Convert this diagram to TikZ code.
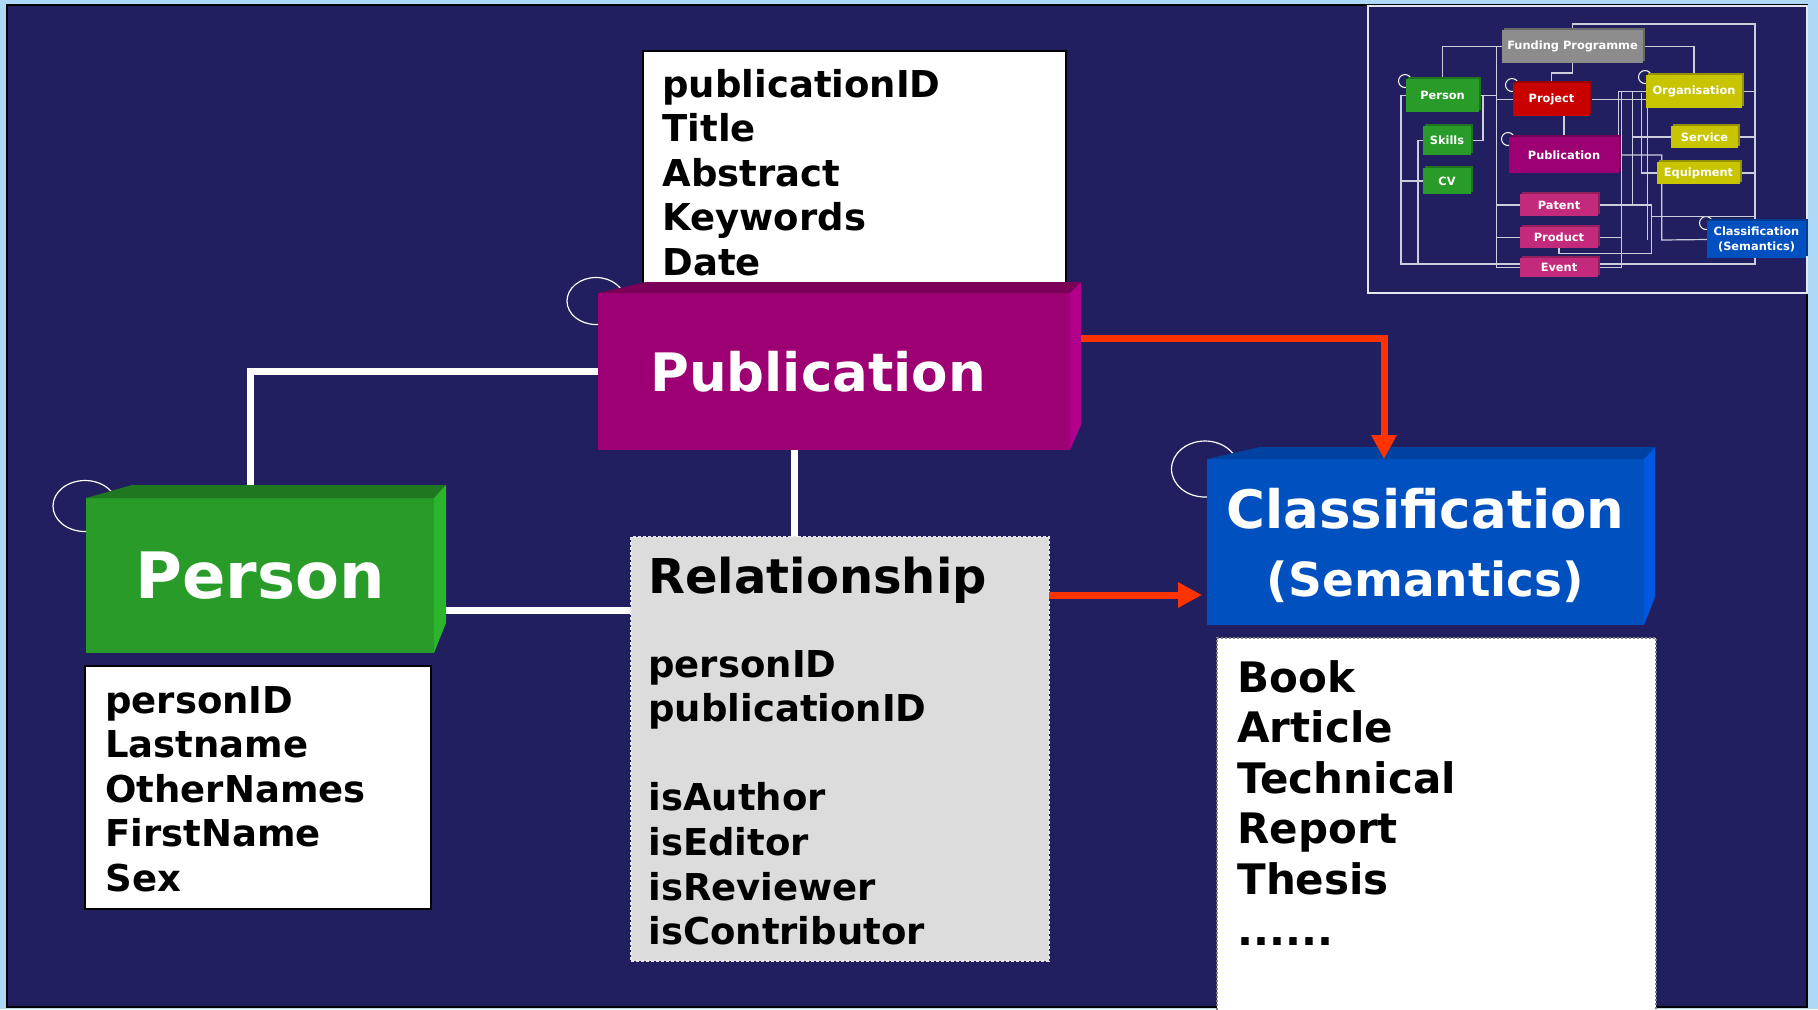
\documentclass[tikz,border=0pt]{standalone}
\usepackage{fontspec}
\setmainfont{DejaVu Sans}
\usetikzlibrary{arrows.meta,shadows}
\pgfdeclarelayer{back}
\pgfsetlayers{back,main}

\definecolor{navy}{RGB}{33,31,95}
\definecolor{skyedge}{RGB}{173,216,246}
\definecolor{pubfront}{RGB}{156,0,114}
\definecolor{pubtop}{RGB}{122,0,88}
\definecolor{pubside}{RGB}{178,0,140}
\definecolor{perfront}{RGB}{41,155,41}
\definecolor{pertop}{RGB}{31,120,31}
\definecolor{perside}{RGB}{45,180,45}
\definecolor{clsfront}{RGB}{0,80,192}
\definecolor{clstop}{RGB}{0,66,160}
\definecolor{clsside}{RGB}{0,88,224}
\definecolor{flowred}{RGB}{255,51,0}
\definecolor{relgrey}{RGB}{220,220,220}
\definecolor{projred}{RGB}{200,0,0}
\definecolor{orgyellow}{RGB}{200,196,0}
\definecolor{patpink}{RGB}{196,42,124}
\definecolor{fundgrey}{RGB}{140,140,140}
\definecolor{minline}{RGB}{205,205,220}
\definecolor{minframe}{RGB}{230,230,240}

\tikzset{
  face/.style={inner sep=0pt, outer sep=0pt, text=white},
  attrbox/.style={draw=black, line width=1pt, fill=white, inner sep=0pt, outer sep=0pt},
  attrtext/.style={anchor=base west, inner sep=0pt, align=left, text width=#1,
    font=\bfseries\fontsize{18.5}{22.3}\selectfont},
  ring/.style={draw=white, line width=0.6pt},
  link/.style={draw=white, line width=3.5pt},
  flow/.style={draw=flowred, line width=3.5pt, -{Triangle[length=12pt,width=12pt]}},
  mini/.style={inner sep=0pt, outer sep=0pt, text=white, align=center, fill=#1,
    font=\bfseries\fontsize{5.7}{7.2}\selectfont,
    copy shadow={shadow xshift=1pt, shadow yshift=1pt, fill=#1!75!black, draw=none}},
  minilink/.style={draw=minline, line width=0.6pt}
}

\begin{document}
\begin{tikzpicture}[x=0.5pt, y=-0.5pt]
\useasboundingbox (0,0) rectangle (1818,1009);
\begin{pgfonlayer}{back}
  \fill[skyedge] (0,0) rectangle (1818,1009);
  \filldraw[fill=navy, draw=black, line width=1pt] (7,5) rectangle (1807,1007);
  % overview inset
  \filldraw[fill=navy, draw=minframe, line width=1pt] (1368,6) rectangle (1807,293);
\end{pgfonlayer}

% attribute lists
\node[attrbox, minimum width=211.5pt, minimum height=124.5pt] (pubattr) at (854.5,175.5) {};
\node[attrtext=190pt] (pubattrtxt) at (662,97) {publicationID\\Title\\Abstract\\Keywords\\Date};
\node[attrbox, minimum width=173pt, minimum height=121.5pt] (perattr) at (258,787.5) {};
\node[attrtext=160pt] (perattrtxt) at (105,713) {personID\\Lastname\\OtherNames\\FirstName\\Sex};
\node[attrbox, draw=gray, line width=0.6pt, dash pattern=on 1pt off 1pt,
  minimum width=219.5pt, minimum height=188pt] (clslist) at (1436.5,826) {};
\node[attrtext=180pt, font=\bfseries\fontsize{21}{25.3}\selectfont] (clslisttxt) at (1237,692)
  {Book\\Article\\Technical\\Report\\Thesis\\......};

% relationship table
\node[fill=relgrey, draw=gray!20, line width=0.6pt, dash pattern=on 1.5pt off 1pt,
  minimum width=209pt, minimum height=212pt, inner sep=0pt, outer sep=0pt] (rel) at (840,749) {};
\node[attrtext=190pt, font=\bfseries\fontsize{24}{28}\selectfont] (reltitle) at (648,593) {Relationship};
\node[attrtext=190pt] (reltxt) at (648,677)
  {personID\\publicationID\\[22.3pt]isAuthor\\isEditor\\isReviewer\\isContributor};

% entities
\node[face, fill=pubfront, minimum width=236pt, minimum height=78.5pt,
  font=\bfseries\fontsize{26.5}{33}\selectfont] (pub) at (834,371.5) {Publication\hspace*{16pt}};
\node[face, fill=perfront, minimum width=174pt, minimum height=77.5pt,
  font=\bfseries\fontsize{32}{38}\selectfont] (per) at (260,575.5) {\raisebox{-2pt}{Person}};
\node[face, fill=clsfront, minimum width=218.5pt, minimum height=83pt, align=center, text depth=0pt,
  font=\bfseries\fontsize{26.5}{34}\selectfont] (cls) at (1425.5,542)
  {Classification\\{\fontsize{23.5}{34}\selectfont (Semantics)}};

\fill[pubtop] (pub.north west) -- ++(48,-11) -- ([shift={(11,-11)}]pub.north east) -- (pub.north east) -- cycle;
\fill[pubside] (pub.north east) -- ++(11,-11) -- ++(0,143) -- (pub.south east) -- cycle;
\fill[pertop] (per.north west) -- ++(46,-13) -- ([shift={(12,-13)}]per.north east) -- (per.north east) -- cycle;
\fill[perside] (per.north east) -- ++(12,-13) -- ++(0,138) -- (per.south east) -- cycle;
\fill[clstop] (cls.north west) -- ++(53,-12) -- ([shift={(11,-12)}]cls.north east) -- (cls.north east) -- cycle;
\fill[clsside] (cls.north east) -- ++(11,-12) -- ++(0,150) -- (cls.south east) -- cycle;

% overview inset boxes
\node[mini=fundgrey, minimum width=70.5pt, minimum height=16.5pt] (iFund) at (1572.5,46.5) {Funding Programme};
\node[mini=perfront, minimum width=36.5pt, minimum height=16.5pt] (iPer) at (1442.5,95.5) {Person};
\node[mini=perfront, minimum width=24pt, minimum height=14.5pt] (iSki) at (1447,140.5) {Skills};
\node[mini=perfront, minimum width=24pt, minimum height=13pt] (iCV) at (1447,181) {CV};
\node[mini=projred, minimum width=38.5pt, minimum height=16.5pt] (iPro) at (1551.5,99.5) {Project};
\node[mini=orgyellow, minimum width=48pt, minimum height=16.5pt] (iOrg) at (1694,91.5) {Organisation};
\node[mini=orgyellow, minimum width=33.5pt, minimum height=11pt] (iSer) at (1704.5,137) {Service};
\node[mini=pubfront, minimum width=55pt, minimum height=18pt] (iPub) at (1564,155) {Publication};
\node[mini=orgyellow, minimum width=41.5pt, minimum height=11pt] (iEqu) at (1698.5,173) {Equipment};
\node[mini=patpink, minimum width=39pt, minimum height=11pt] (iPat) at (1559,205) {Patent};
\node[mini=patpink, minimum width=39pt, minimum height=10.5pt] (iPrd) at (1559,237.5) {Product};
\node[mini=patpink, minimum width=39pt, minimum height=9.5pt] (iEvt) at (1559,267.5) {Event};
\node[mini=clsfront, minimum width=49.5pt, minimum height=18.5pt] (iCls) at (1756.5,239.5) {Classification\\(Semantics)};

\begin{pgfonlayer}{back}
  % key circles
  \draw[ring] ([shift={(-2,8)}]pub.north west) ellipse [x radius=14.5pt, y radius=11.75pt];
  \draw[ring] ([shift={(-1,8)}]per.north west) ellipse [x radius=16pt, y radius=12.75pt];
  \draw[ring] ([shift={(-2,10)}]cls.north west) ellipse [x radius=16.75pt, y radius=14pt];
  \foreach \n in {iPer,iPro,iOrg,iPub,iCls}
    \draw[ring, line width=0.5pt] ([shift={(-1,2)}]\n.north west) circle [radius=3.25pt];
  % white links
  \draw[link] ([xshift=-5pt,yshift=2.5pt]per.north) |- (pub.west);
  \draw[link] (per.east |- 0,610) -- (rel.west |- 0,610);
  \draw[link] (pub.south -| 794,0) -- (rel.north -| 794,0);
  % inset links
  \draw[minilink] (iPer.north) |- (iFund.west);
  \draw[minilink] (iFund.north) |- (1755,24) -- (1755,264) -- (1401,264) |- (iPer.west);
  \draw[minilink] (iFund.east) -| (iOrg.north);
  \draw[minilink] (iFund.south) -- ++(0,10) -| (iPro.north);
  \draw[minilink] (iPer.east) -| (1483,140.5) -- (iSki.east);
  \draw[minilink] (1418,264) |- (iSki.west);
  \draw[minilink] (1401,181) -- (iCV.west);
  \draw[minilink] (iFund.west) -| (1496.7,267.7) -| (iOrg.west -| 1621.7,0) -- (iOrg.west);
  \draw[minilink] (iPer.east) -- (iPer.east -| 1496.7,0);
  \draw[minilink] (iPro.west -| 1496.7,0) -- (iPro.west);
  \draw[minilink] (iPro.east) -- (iPro.east -| iOrg.west);
  \draw[minilink] (iPub.north) -- (iPub.north |- iPro.south);
  \draw[minilink] (iPub.east) -| (1661.7,240) -- (iCls.west);
  \draw[minilink] (iPub.east -| 1618.3,0) |- (iOrg.west);
  \draw[minilink] (iPat.east) -| (1651.7,253.3) -| (iPrd.south);
  \draw[minilink] (1651.7,216.7) -- (1755,216.7);
  \draw[minilink] (1632.7,205) |- (iOrg.west);
  \draw[minilink] (iSer.west) -- (iSer.west -| 1632.7,0);
  \draw[minilink] (iEqu.west) -| (1641.7,92.7);
  \draw[minilink] (1647.3,240) -- (1647.3,92.7);
  \draw[minilink] (iOrg.east) -- (iOrg.east -| 1755,0);
  \draw[minilink] (iSer.east) -- (iSer.east -| 1755,0);
  \draw[minilink] (iEqu.east) -- (iEqu.east -| 1755,0);
  \draw[minilink] (iPat.west) -- (iPat.west -| 1496.7,0);
  \draw[minilink] (iPrd.west) -- (iPrd.west -| 1496.7,0);
  \draw[minilink] (iPrd.east) -- (iPrd.east -| 1621.7,0);
\end{pgfonlayer}

% red flows
\draw[flow, shorten <=5.5pt] (pub.east |- 0,338) -| (cls.north -| 1384,0);
\draw[flow, shorten >=2.5pt] (rel.east |- 0,595) -- (cls.west |- 0,595);
\end{tikzpicture}
\end{document}
